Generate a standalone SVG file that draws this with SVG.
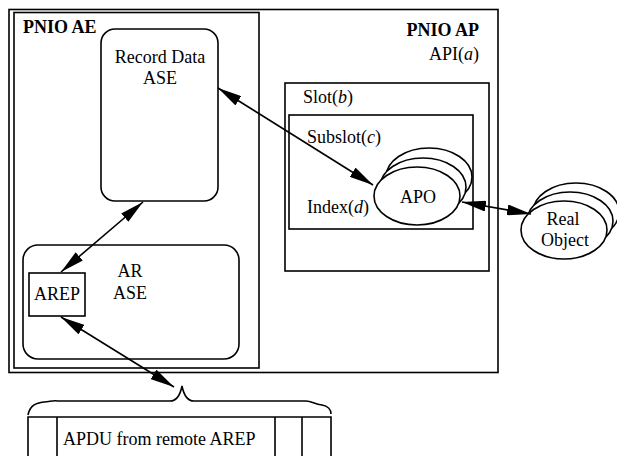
<svg xmlns="http://www.w3.org/2000/svg" width="617" height="456" viewBox="0 0 617 456">
  <style>
    .box { fill: none; stroke: #000; stroke-width: 1.6; }
    .obj { fill: #fff; stroke: #000; stroke-width: 1.6; }
    text { font-family: "Liberation Serif", "DejaVu Serif", serif; font-size: 18px; fill: #000; }
    .bold { font-weight: bold; }
    .mid { text-anchor: middle; }
    .end { text-anchor: end; }
    .wire { fill: none; stroke: #000; stroke-width: 1.6; marker-start: url(#head); marker-end: url(#head); }
  </style>
  <defs>
    <marker id="head" viewBox="0 0 24 11" refX="24" refY="5.5" markerWidth="24" markerHeight="11" markerUnits="userSpaceOnUse" orient="auto-start-reverse">
      <path d="M0,0 L24,5.5 L0,11 Z" fill="#000"/>
    </marker>
    <ellipse id="oval" rx="43" ry="29"/>
  </defs>

  <!-- PNIO AP frame -->
  <g id="pnio-ap">
    <rect class="box" x="9" y="9.5" width="489" height="363" stroke-width="2"/>
    <text class="bold end" x="479" y="36">PNIO AP</text>
    <text class="end" x="479" y="60">API(<tspan font-style="italic">a</tspan>)</text>
  </g>

  <!-- PNIO AE frame -->
  <g id="pnio-ae">
    <rect class="box" x="14" y="12.5" width="245" height="355.5"/>
    <text class="bold" x="23" y="33">PNIO AE</text>
  </g>

  <g id="record-data-ase">
    <rect class="box" x="101" y="29" width="117" height="172" rx="14"/>
    <text class="mid" x="160" y="63">Record Data</text>
    <text class="mid" x="160" y="84">ASE</text>
  </g>

  <g id="ar-ase">
    <rect class="box" x="23" y="245" width="216" height="114" rx="15"/>
    <text class="mid" x="130" y="277">AR</text>
    <text class="mid" x="130" y="299">ASE</text>
  </g>

  <g id="arep">
    <rect class="box" x="29" y="273" width="56" height="43"/>
    <text class="mid" x="57" y="300">AREP</text>
  </g>

  <g id="slot">
    <rect class="box" x="285" y="83" width="204" height="188"/>
    <text x="303" y="103">Slot(<tspan font-style="italic">b</tspan>)</text>
  </g>

  <g id="subslot">
    <rect class="box" x="289" y="115" width="184" height="114"/>
    <text x="307" y="143">Subslot(<tspan font-style="italic">c</tspan>)</text>
    <text x="307" y="213">Index(<tspan font-style="italic">d</tspan>)</text>
  </g>

  <!-- stacked application process objects -->
  <g id="apo">
    <use href="#oval" class="obj" x="429" y="177"/>
    <use href="#oval" class="obj" x="423" y="187"/>
    <use href="#oval" class="obj" x="417" y="196"/>
    <text class="mid" x="418" y="203">APO</text>
  </g>

  <g id="real-object">
    <use href="#oval" class="obj" x="576" y="212"/>
    <use href="#oval" class="obj" x="570" y="221"/>
    <use href="#oval" class="obj" x="564" y="230"/>
    <text class="mid" x="563" y="225">Real</text>
    <text class="mid" x="565" y="246">Object</text>
  </g>

  <!-- remote APDU with brace -->
  <g id="apdu">
    <path class="box" d="M28,415 C30,405 36,403 44,402 C50,402 52,400 58,401 L170,401 C176,401 180,396 182,386 C184,396 188,401 194,401 L306,401 C312,401 314,404 322,405 C328,406 331,410 331,414"/>
    <path class="box" d="M28,456 V417 H331 V456 M57,417 V456 M275,417 V456"/>
    <path class="box" d="M302,417 V456" stroke-width="2.6"/>
    <text x="63" y="445">APDU from remote AREP</text>
  </g>

  <g id="connectors">
    <line class="wire" x1="218" y1="88" x2="373" y2="185"/>
    <line class="wire" x1="143" y1="202" x2="61" y2="272"/>
    <line class="wire" x1="61" y1="317" x2="174" y2="387"/>
    <line class="wire" x1="462" y1="202" x2="531" y2="214"/>
  </g>
</svg>
